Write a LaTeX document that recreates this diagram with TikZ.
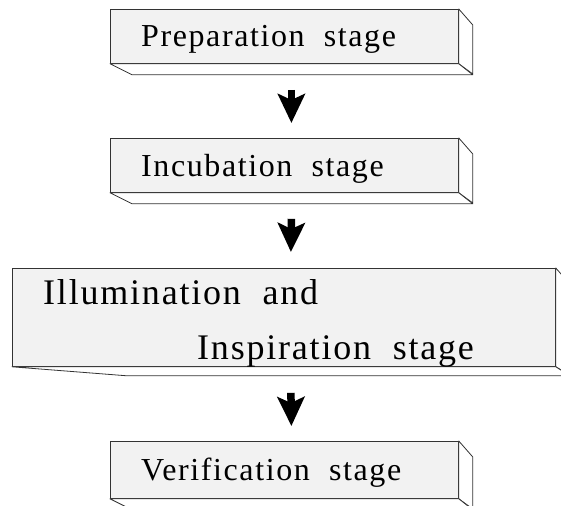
\documentclass[tikz,border=0pt]{standalone}
\usepackage{fontspec}
\setmainfont{Liberation Serif}[LetterSpace=5,WordSpace=2]
\usetikzlibrary{arrows.meta,calc}

\tikzset{
    front/.style={draw=black!80, fill=black!5, line width=0.8pt, rectangle, anchor=north west, inner sep=0pt},
    side/.style={draw=black!80, fill=white, line width=0.8pt, line join=round},
    stagetext/.style={anchor=base west, inner sep=0pt, font=\fontsize{32}{37}\selectfont},
    bigtext/.style={anchor=base west, inner sep=0pt, font=\fontsize{36}{42}\selectfont},
    stagearrow/.style={line width=7.5pt, -{Stealth[length=29pt, width=27pt, inset=6pt]}},
}

\begin{document}
\begin{tikzpicture}[x=1pt,y=-1pt]
    \useasboundingbox (0,0) rectangle (561,505);
    \clip (0,0) rectangle (561,505);

    % the four stage boxes
    \node[front, minimum width=348pt, minimum height=54pt] (prep) at (110,9) {};
    \draw[side] (prep.north east) -- ++(14,16) -- ++(0,49) -- (prep.south east) -- cycle;
    \draw[side] (prep.south west) -- ++(22,11) -- ($(prep.south east)+(14,11)$) -- (prep.south east) -- cycle;
    \node[stagetext] (preplabel) at ($(prep.north west)+(31,38)$) {Preparation stage};

    \node[front, minimum width=348pt, minimum height=54pt] (incub) at (110,138) {};
    \draw[side] (incub.north east) -- ++(14,16) -- ++(0,49) -- (incub.south east) -- cycle;
    \draw[side] (incub.south west) -- ++(22,11) -- ($(incub.south east)+(14,11)$) -- (incub.south east) -- cycle;
    \node[stagetext] (incublabel) at ($(incub.north west)+(31,38)$) {Incubation stage};

    \node[front, minimum width=543pt, minimum height=98pt] (illum) at (12,268) {};
    \draw[side] (illum.north east) -- ++(14,16) -- ++(0,91) -- (illum.south east) -- cycle;
    \draw[side] (illum.south west) -- ++(115,9) -- ($(illum.south east)+(14,9)$) -- (illum.south east) -- cycle;
    \node[bigtext] (illumlabel) at ($(illum.north west)+(31,36)$) {Illumination and};
    \node[bigtext] (insplabel) at ($(illum.north west)+(185,91)$) {Inspiration stage};

    \node[front, minimum width=348pt, minimum height=57pt] (verif) at (110,441) {};
    \draw[side] (verif.north east) -- ++(14,16) -- ++(0,52) -- (verif.south east) -- cycle;
    \draw[side] (verif.south west) -- ++(22,11) -- ($(verif.south east)+(14,11)$) -- (verif.south east) -- cycle;
    \node[stagetext] (veriflabel) at ($(verif.north west)+(31,39)$) {Verification stage};

    % arrows between the stages
    \draw[stagearrow] ([xshift=7pt,yshift=-26pt]prep.south) -- ([xshift=7pt,yshift=15pt]incub.north);
    \draw[stagearrow] ([xshift=7pt,yshift=-26pt]incub.south) -- ([xshift=7pt,yshift=16pt]illum.north);
    \draw[stagearrow] ([xshift=7pt,yshift=-26pt]illum.south) -- ([xshift=7pt,yshift=15pt]verif.north);
\end{tikzpicture}
\end{document}
